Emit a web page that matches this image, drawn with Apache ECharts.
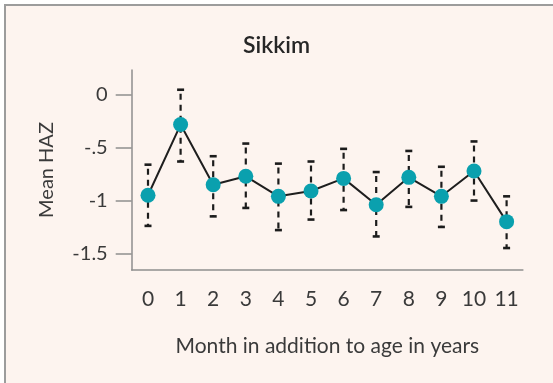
<!DOCTYPE html>
<html>
<head>
<meta charset="utf-8">
<script src="https://cdn.jsdelivr.net/npm/echarts@6/dist/echarts.min.js"></script>
<style>
  html, body { margin: 0; padding: 0; background: #ffffff; overflow: hidden; }
  #frame {
    position: absolute; left: 4px; top: 4px; width: 620px; height: 420px;
    border-left: 2px solid #9c9c9c; border-top: 2px solid #9c9c9c;
    background: #fdf4ef;
  }
  #chart { position: absolute; left: 0; top: 0; width: 553px; height: 383px; }
</style>
</head>
<body>
<div id="frame"></div>
<div id="chart"></div>
<script>
// Months beyond the completed year of age
const months = ['0', '1', '2', '3', '4', '5', '6', '7', '8', '9', '10', '11'];
// Mean height-for-age z-score per month
const meanHAZ = [-0.95, -0.28, -0.85, -0.77, -0.96, -0.91, -0.79, -1.04, -0.78, -0.96, -0.72, -1.20];
// Upper and lower ends of the error bars
const upperHAZ = [-0.66, 0.05, -0.58, -0.46, -0.65, -0.63, -0.51, -0.73, -0.53, -0.68, -0.44, -0.96];
const lowerHAZ = [-1.24, -0.63, -1.15, -1.07, -1.28, -1.18, -1.09, -1.34, -1.06, -1.25, -1.00, -1.45];
// Y-axis ticks and their printed labels
const yTicks = [0, -0.5, -1, -1.5];
const yTickLabels = ['0', '-.5', '-1', '-1.5'];

const FONT = 'Lato, "Open Sans", sans-serif';
const AXIS_GREY = '#8e8e8e';
const TEXT = '#3a3a3a';

const chart = echarts.init(document.getElementById('chart'), null, { renderer: 'canvas' });

const errorData = months.map((m, i) => [i, lowerHAZ[i], upperHAZ[i]]);

chart.setOption({
  backgroundColor: 'transparent',
  animation: false,
  title: {
    text: 'Sikkim',
    left: 'center',
    top: 29,
    textStyle: { fontFamily: FONT, fontSize: 23, fontWeight: 600, color: '#262626' }
  },
  grid: { left: 131.7, right: 30.1, top: 70, bottom: 113, containLabel: false },
  xAxis: {
    type: 'category',
    data: months,
    boundaryGap: true,
    name: 'Month in addition to age in years',
    nameLocation: 'middle',
    nameGap: 66,
    nameTextStyle: { fontFamily: FONT, fontSize: 21, fontWeight: 400, color: TEXT },
    axisLine: { onZero: false, lineStyle: { color: AXIS_GREY, width: 1.5 } },
    axisTick: { alignWithLabel: true, length: 11, lineStyle: { color: AXIS_GREY, width: 1.5 } },
    axisLabel: { margin: 19, fontFamily: FONT, fontSize: 21, fontWeight: 400, color: TEXT },
    splitLine: { show: false }
  },
  yAxis: {
    type: 'value',
    min: -1.658,
    max: 0.237,
    name: 'Mean HAZ',
    nameLocation: 'middle',
    nameGap: 75,
    nameRotate: 90,
    nameTextStyle: { fontFamily: FONT, fontSize: 20, fontWeight: 400, color: TEXT },
    axisLine: { show: true, lineStyle: { color: AXIS_GREY, width: 1.5 } },
    axisTick: { show: true, length: 16, customValues: yTicks, lineStyle: { color: AXIS_GREY, width: 1.5 } },
    axisLabel: {
      margin: 24,
      customValues: yTicks,
      fontFamily: FONT, fontSize: 20, fontWeight: 400, color: TEXT,
      formatter: v => yTickLabels[yTicks.findIndex(t => Math.abs(t - v) < 1e-6)]
    },
    splitLine: { show: false }
  },
  series: [
    {
      type: 'custom',
      z: 1,
      data: errorData,
      renderItem: (params, api) => {
        const x = api.value(0);
        const lo = api.coord([x, api.value(1)]);
        const hi = api.coord([x, api.value(2)]);
        const cap = 3.5;
        const style = { stroke: '#1c1c1c', lineWidth: 2.2 };
        return {
          type: 'group',
          children: [
            { type: 'line', shape: { x1: hi[0], y1: hi[1], x2: lo[0], y2: lo[1] },
              style: Object.assign({ lineDash: [6, 5], lineDashOffset: -4 }, style) },
            { type: 'line', shape: { x1: hi[0] - cap, y1: hi[1], x2: hi[0] + cap, y2: hi[1] }, style: Object.assign({}, style, { lineWidth: 2.6 }) },
            { type: 'line', shape: { x1: lo[0] - cap, y1: lo[1], x2: lo[0] + cap, y2: lo[1] }, style: Object.assign({}, style, { lineWidth: 2.6 }) }
          ]
        };
      }
    },
    {
      type: 'line',
      z: 3,
      data: meanHAZ,
      symbol: 'circle',
      symbolSize: 15,
      showAllSymbol: true,
      lineStyle: { color: '#1e1e1e', width: 2 },
      itemStyle: { color: '#0aa0ae', borderWidth: 0 }
    }
  ]
});
</script>
</body>
</html>
